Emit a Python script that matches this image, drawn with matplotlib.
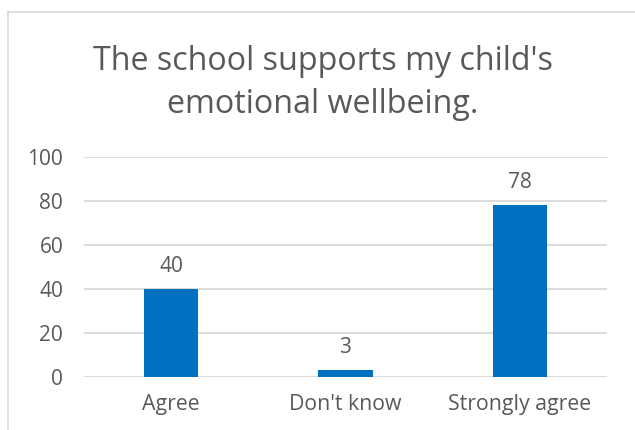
import matplotlib.pyplot as plt
from matplotlib.lines import Line2D

categories = ["Agree", "Don't know", "Strongly agree"]
values = [40, 3, 78]
y_ticks = [0, 20, 40, 60, 80, 100]
title = "The school supports my child's\nemotional wellbeing."

text_color = "#595959"
grid_color = "#d9d9d9"
bar_color = "#0070C0"

plt.rcParams["font.family"] = ["Open Sans", "DejaVu Sans"]

fig = plt.figure(figsize=(6.35, 4.3), dpi=100)
ax = fig.add_axes([84 / 635, 1 - 377 / 430, 523 / 635, 220 / 430])

x = range(len(categories))
ax.bar(x, values, width=0.31, color=bar_color, zorder=3)
for xi, v in zip(x, values):
    ax.annotate(str(v), (xi, v), xytext=(0, 9), textcoords="offset points",
                ha="center", va="bottom", fontsize=15, color=text_color)

ax.set_xlim(-0.5, 2.5)
ax.set_ylim(0, 100)
ax.set_yticks(y_ticks)
ax.set_xticks(list(x))
ax.set_xticklabels(categories)
ax.tick_params(axis="y", length=0, pad=15, labelsize=15, labelcolor=text_color)
ax.tick_params(axis="x", length=0, pad=12, labelsize=15.3, labelcolor=text_color)
ax.grid(axis="y", color=grid_color, linewidth=1.3, zorder=0)
for s in ax.spines.values():
    s.set_visible(False)

fig.text(323 / 635, 1 - 83 / 430, title, ha="center", va="center",
         fontsize=23.2, color=text_color, linespacing=1.38)

# chart border (top and left edges visible)
fig.add_artist(Line2D([8 / 635, 8 / 635], [0, 1 - 12 / 430], color=grid_color,
                      linewidth=1.2, transform=fig.transFigure))
fig.add_artist(Line2D([8 / 635, 1], [1 - 12 / 430, 1 - 12 / 430], color=grid_color,
                      linewidth=1.2, transform=fig.transFigure))

fig.savefig("out.png", dpi=100)
